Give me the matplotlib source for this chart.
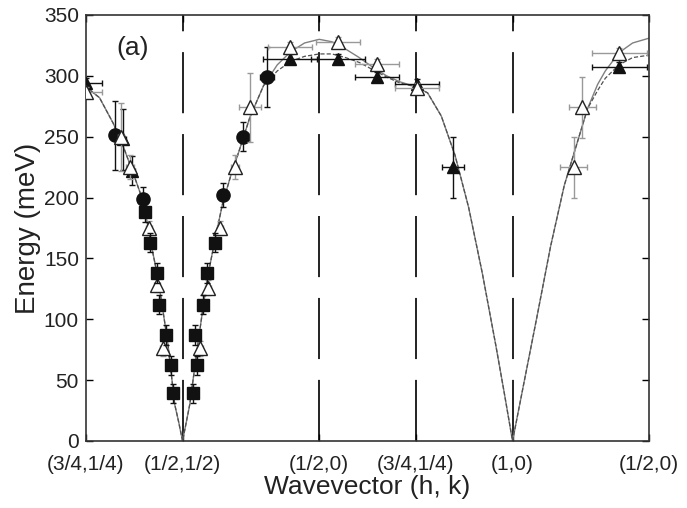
import numpy as np
import matplotlib.pyplot as plt

plt.rcParams['font.family'] = ['Liberation Sans', 'DejaVu Sans']
plt.rcParams['lines.scale_dashes'] = False

# path through the zone, ticks at the corner points
kpts = [(0.75, 0.25), (0.5, 0.5), (0.5, 0.0), (0.75, 0.25), (1.0, 0.0), (0.5, 0.0)]
klabels = ['(3/4,1/4)', '(1/2,1/2)', '(1/2,0)', '(3/4,1/4)', '(1,0)', '(1/2,0)']

# fitted dispersion, path coordinate vs energy (meV)
curve_x = [0, 0.05, 0.10, 0.14, 0.17, 0.20, 0.22, 0.24, 0.26, 0.28, 0.30, 0.315, 0.325, 0.34, 0.3536,
           0.367, 0.38, 0.395, 0.41, 0.43, 0.45, 0.47, 0.50, 0.53, 0.56, 0.60, 0.65, 0.70, 0.75, 0.80, 0.8536,
           0.90, 0.95, 1.00, 1.05, 1.10, 1.15, 1.2071,
           1.25, 1.30, 1.35, 1.40, 1.45, 1.50, 1.53, 1.5607,
           1.60, 1.65, 1.70, 1.75, 1.785, 1.835, 1.872, 1.90, 1.95, 2.00, 2.0607]
curve_hi = [291, 282, 261, 240, 222, 203, 185, 160, 138, 110, 80, 50, 30, 15, 0,
            15, 30, 55, 80, 112, 140, 163, 195, 218, 238, 266, 292, 309, 320, 327, 330,
            328, 322, 315, 307, 300, 295, 291,
            286, 267, 235, 192, 138, 78, 40, 0,
            45, 102, 160, 210, 236, 273, 293, 304, 319, 327, 331]
curve_lo = [291, 282, 261, 240, 222, 203, 185, 160, 138, 110, 80, 50, 30, 15, 0,
            15, 30, 55, 80, 112, 140, 163, 195, 218, 238, 266, 292, 304, 312, 316, 318,
            318, 315, 311, 305, 299, 294, 291,
            286, 267, 235, 192, 138, 78, 40, 0,
            45, 102, 160, 210, 236, 273, 288, 298, 309, 315, 317]

# filled squares
sq_x = [0.216, 0.234, 0.260, 0.267, 0.293, 0.311, 0.318, 0.392, 0.406, 0.399, 0.428, 0.443, 0.472]
sq_e = [188, 163, 138, 112, 87, 62, 39, 39, 62, 87, 112, 138, 163]
sq_xerr = [0.01] * 13
sq_yerr = [8] * 13

# filled circles
ci_x = [0.106, 0.209, 0.502, 0.575, 0.663]
ci_e = [251, 199, 202, 250, 299]
ci_xerr = [0.015, 0.015, 0.015, 0.015, 0.025]
ci_yerr = [28, 10, 10, 12, 25]

# filled triangles
ft_x = [0.0, 0.135, 0.168, 0.747, 0.922, 1.065, 1.210, 1.344, 1.951]
ft_e = [294, 248, 222, 314, 314, 299, 293, 225, 307]
ft_xerr = [0.06, 0.01, 0.01, 0.10, 0.10, 0.08, 0.08, 0.04, 0.10]
ft_yerr = [4, 25, 12, 4, 4, 4, 4, 25, 4]

# open triangles
ot_x = [0.0, 0.128, 0.161, 0.231, 0.260, 0.282, 0.418, 0.447, 0.490, 0.546, 0.600,
        0.747, 0.922, 1.065, 1.210, 1.784, 1.816, 1.951]
ot_e = [287, 250, 225, 175, 128, 76, 76, 126, 175, 225, 274,
        324, 328, 310, 290, 225, 274, 319]
ot_xerr = [0.06, 0.01, 0.015, 0.01, 0.01, 0.01, 0.01, 0.01, 0.01, 0.015, 0.04,
           0.08, 0.08, 0.08, 0.08, 0.05, 0.05, 0.10]
ot_yerr = [4, 28, 10, 6, 6, 6, 6, 6, 6, 10, 28, 4, 4, 4, 4, 25, 25, 4]

# cumulative distance along the path
kp = np.array(kpts)
tick_pos = np.concatenate([[0], np.cumsum(np.linalg.norm(np.diff(kp, axis=0), axis=1))])

fig = plt.figure(figsize=(6.87, 5.08), dpi=100)
ax = fig.add_axes([0.125, 0.132, 0.82, 0.8385])

for xv in tick_pos[1:-1]:
    ax.plot([xv, xv], [0, 350], color='#111', lw=1.3, linestyle=(0, (44, 15)), zorder=1)

ax.plot(curve_x, curve_hi, color='#808080', lw=1.0, zorder=2)
ax.plot(curve_x, curve_lo, color='#505050', lw=0.9, linestyle=(0, (3, 1.5)), zorder=2)

ax.errorbar(ft_x, ft_e, xerr=ft_xerr, yerr=ft_yerr, fmt='^', ms=9, mfc='#111', mec='#111',
            ecolor='#111', elinewidth=1.0, capsize=2.5, zorder=3)
ax.errorbar(ci_x, ci_e, xerr=ci_xerr, yerr=ci_yerr, fmt='o', ms=9.5, mfc='#111', mec='#111',
            ecolor='#111', elinewidth=1.0, capsize=2.5, zorder=3.5)
ax.errorbar(ot_x, ot_e, xerr=ot_xerr, yerr=ot_yerr, fmt='^', ms=10, mfc='white', mec='#222',
            mew=1.0, ecolor='#999', elinewidth=1.0, capsize=2.5, zorder=4)
ax.errorbar(sq_x, sq_e, xerr=sq_xerr, yerr=sq_yerr, fmt='s', ms=8, mfc='#111', mec='#111',
            ecolor='#111', elinewidth=1.0, capsize=2, zorder=5)

ax.set_xlim(tick_pos[0], tick_pos[-1])
ax.set_ylim(0, 350)
ax.set_xticks(tick_pos)
ax.set_xticklabels(klabels)
ax.set_yticks(np.arange(0, 351, 50))
ax.tick_params(direction='in', length=5, width=1, top=True, right=True,
               labelsize=15, labelcolor='#222', pad=5)
ax.tick_params(axis='x', pad=10)
for sp in ax.spines.values():
    sp.set_linewidth(1.2)
    sp.set_color('#333')

ax.set_xlabel('Wavevector (h, k)', fontsize=19, color='#222', labelpad=1)
ax.set_ylabel('Energy (meV)', fontsize=20, color='#222', labelpad=2)
ax.text(0.055, 0.922, '(a)', transform=ax.transAxes, fontsize=19, color='#222', va='center')

fig.savefig('out.png', dpi=100)
